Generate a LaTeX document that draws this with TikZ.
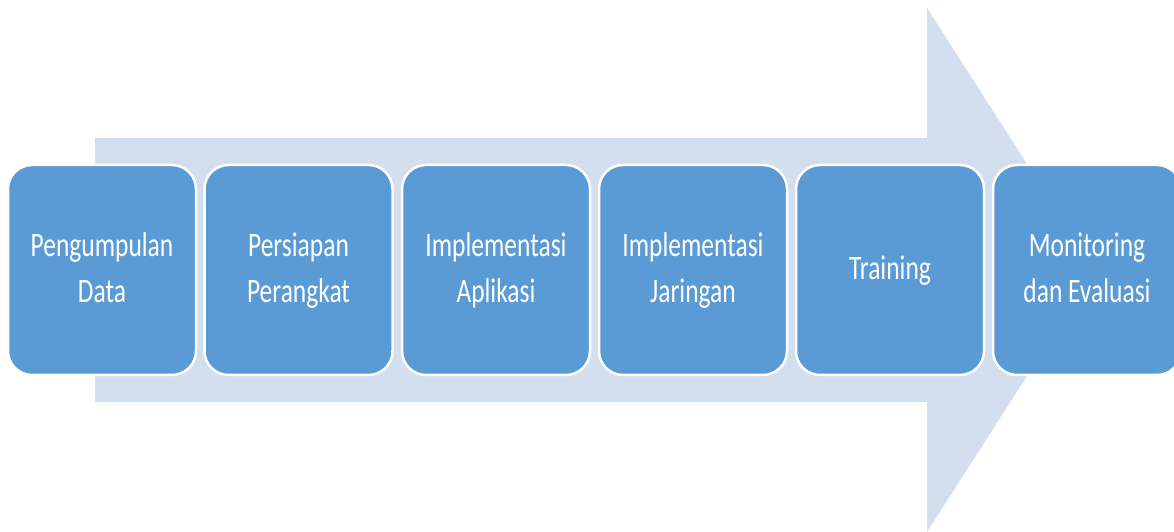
\documentclass[tikz,border=0pt]{standalone}
\usepackage{fontspec}
\setmainfont{Carlito}
\definecolor{stepblue}{HTML}{5B9BD5}
\definecolor{flowbg}{HTML}{D3DEEF}
\newcommand{\steptext}[1]{\scalebox{0.98}[1.32]{\begin{tabular}{@{}c@{}}#1\end{tabular}}}
\tikzset{
  stepbox/.style={draw=white, line width=2.5pt, fill=stepblue, rounded corners=24pt,
    minimum width=188pt, minimum height=210pt, inner sep=0pt,
    text=white, font=\fontsize{26}{35}\selectfont},
}
\begin{document}
\begin{tikzpicture}[x=1pt,y=1pt]
  \useasboundingbox (0,0) rectangle (1174,532);
  \clip (0,0) rectangle (1174,532);
  % broad background arrow
  \fill[flowbg] (95,394) -- (927,394) -- (927,524) -- (1095,262)
    -- (927,0) -- (927,130) -- (95,130) -- cycle;
  % process steps
  \node[stepbox] (s1) at (102,262)  {\steptext{Pengumpulan\\Data}};
  \node[stepbox] (s2) at (298.5,262) {\steptext{Persiapan\\Perangkat}};
  \node[stepbox] (s3) at (496,262)  {\steptext{Implementasi\\Aplikasi}};
  \node[stepbox] (s4) at (693,262)  {\steptext{Implementasi\\Jaringan}};
  \node[stepbox] (s5) at (890,262)  {\steptext{Training}};
  \node[stepbox] (s6) at (1087,262) {\steptext{Monitoring\\dan Evaluasi}};
\end{tikzpicture}
\end{document}
